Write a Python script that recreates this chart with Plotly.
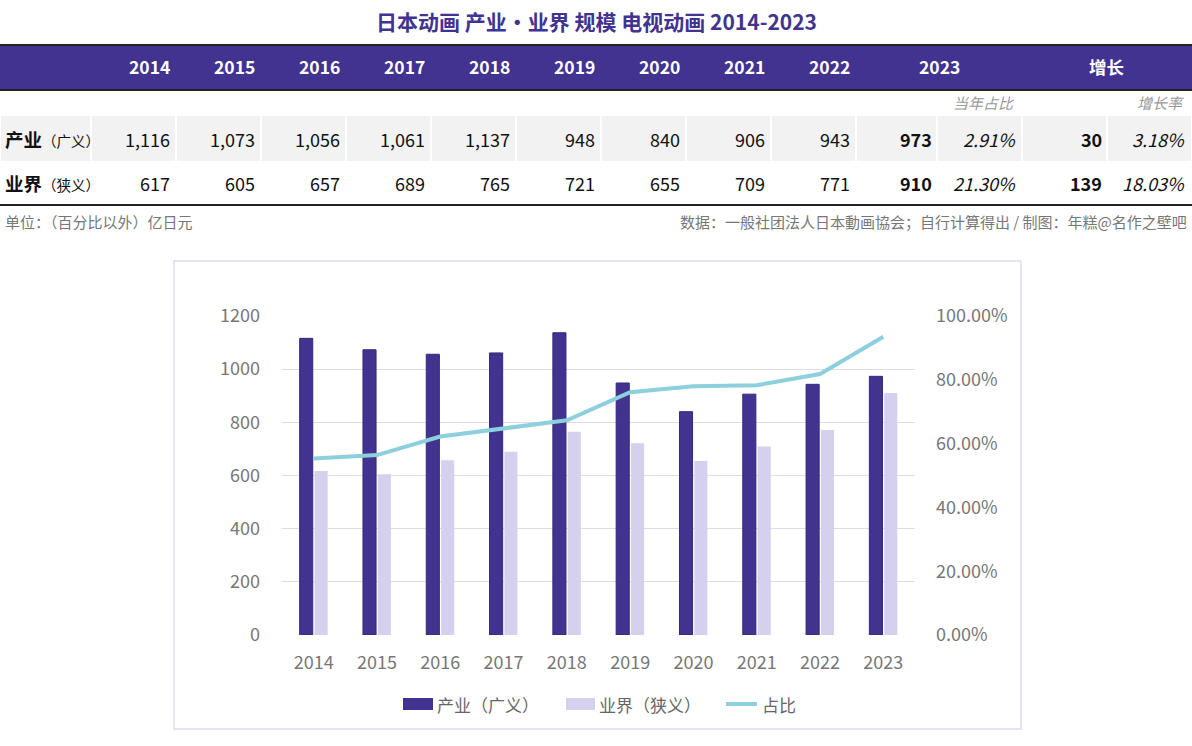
import plotly.graph_objects as go

# data
years = ['2014', '2015', '2016', '2017', '2018', '2019', '2020', '2021', '2022', '2023']
industry = [1116, 1073, 1056, 1061, 1137, 948, 840, 906, 943, 973]   # 产业（广义）
studio = [617, 605, 657, 689, 765, 721, 655, 709, 771, 910]          # 业界（狭义）
share = [0.553, 0.564, 0.622, 0.649, 0.673, 0.761, 0.780, 0.783, 0.818, 0.935]  # 占比
share_2023 = ['2.91%', '21.30%']
growth = [30, 139]
growth_rate = ['3.18%', '18.03%']
row_names = [('产业', '（广义）'), ('业界', '（狭义）')]
series_names = ['产业（广义）', '业界（狭义）', '占比']

W, H = 1192, 746
FONT = 'Noto Sans CJK SC'
PURPLE = '#41338f'
LIGHT = '#d5d0ee'
CYAN = '#8dcfdc'
GRID = '#dedaf0'
GREY = '#777777'


def X(px):
    return px / W


def Y(py):
    return 1 - py / H


fig = go.Figure()

fig.add_trace(go.Bar(x=years, y=industry, name=series_names[0],
                     marker=dict(color=PURPLE, line=dict(color='#35297a', width=1))))
fig.add_trace(go.Bar(x=years, y=studio, name=series_names[1],
                     marker=dict(color=LIGHT, line=dict(width=0))))
fig.add_trace(go.Scatter(x=years, y=share, name=series_names[2], yaxis='y2',
                         mode='lines', line=dict(color=CYAN, width=4)))

shapes = []
ann = []


def text(x, y, s, size=18, color='#111111', anchor='right'):
    ann.append(dict(x=X(x), y=Y(y), xref='paper', yref='paper', text=s,
                    showarrow=False, xanchor=anchor, yanchor='middle',
                    font=dict(family=FONT, size=size, color=color)))


def rect(x0, y0, x1, y1, fill):
    shapes.append(dict(type='rect', xref='paper', yref='paper',
                       x0=X(x0), x1=X(x1), y0=Y(y0), y1=Y(y1),
                       fillcolor=fill, line=dict(width=0), layer='below'))


def hline(y, color='#222', width=2):
    shapes.append(dict(type='line', xref='paper', yref='paper', x0=0, x1=1,
                       y0=Y(y), y1=Y(y), line=dict(color=color, width=width)))


# title
text(596, 21, '<b>日本动画 产业・业界 规模 电视动画 2014-2023</b>', size=21,
     color=PURPLE, anchor='center')

# table: header band and rules
rect(0, 45, W, 90, PURPLE)
hline(45)
hline(90)
hline(205)

# column edges
edges = [0, 91] + [91 + 85 * (i + 1) for i in range(9)] + [937, 1022, 1107, W]
for a, b in zip(edges[:-1], edges[1:]):
    rect(a + 1, 116, b - 1, 161, '#f2f2f2')

for i, yr in enumerate(years[:-1]):
    text(edges[i + 2] - 4, 67, '<b>' + yr + '</b>', size=17.5, color='white')
text((edges[10] + 1022) / 2, 67, '<b>' + years[-1] + '</b>', size=17.5,
     color='white', anchor='center')
text((1022 + W) / 2, 67, '<b>增长</b>', size=17.5, color='white', anchor='center')
text(1017, 103, '<i>当年占比</i>', size=15, color='#999999')
text(1186, 103, '<i>增长率</i>', size=15, color='#999999')

rows = [industry, studio]
for r, (vals, yc) in enumerate(zip(rows, [139, 183])):
    name, sub = row_names[r]
    text(3, yc, '<b>' + name + '</b><span style="font-size:14.5px">' + sub + '</span>',
         size=18.5, anchor='left')
    for i, v in enumerate(vals[:-1]):
        text(edges[i + 2] - 4, yc, f'{v:,}')
    text(934, yc, f'<b>{vals[-1]:,}</b>')
    text(1018, yc, '<i>' + share_2023[r] + '</i>')
    text(1104, yc, f'<b>{growth[r]:,}</b>')
    text(1187, yc, '<i>' + growth_rate[r] + '</i>')

text(3, 222, '单位：（百分比以外）亿日元', size=15, color=GREY, anchor='left')
text(1189, 222, '数据：一般社团法人日本動画協会；自行计算得出 / 制图：年糕@名作之壁吧',
     size=15, color=GREY)

# chart frame
shapes.append(dict(type='rect', xref='paper', yref='paper', x0=X(174), x1=X(1021),
                   y0=Y(729), y1=Y(261), line=dict(color=GRID, width=1.5),
                   fillcolor='rgba(0,0,0,0)', layer='below'))

# legend drawn by hand to get the wide swatches
rect(403, 698, 433, 710, PURPLE)
rect(566, 698, 595, 710, LIGHT)
shapes.append(dict(type='line', xref='paper', yref='paper', x0=X(726), x1=X(757),
                   y0=Y(704), y1=Y(704), line=dict(color=CYAN, width=4)))
for xx, nm in zip([435, 597, 760], series_names):
    text(xx, 704, nm, size=17, color='#666666', anchor='left')

fig.update_layout(
    width=W, height=H, autosize=False,
    margin=dict(l=0, r=0, t=0, b=0, autoexpand=False),
    paper_bgcolor='white', plot_bgcolor='white',
    font=dict(family=FONT, color=GREY),
    showlegend=False,
    barmode='group', bargap=0.53, bargroupgap=0.12,
    shapes=shapes, annotations=ann,
    xaxis=dict(domain=[X(282), X(915)], type='category', showgrid=False,
               showline=False, ticks='', tickfont=dict(size=18, color=GREY),
               ticklabelstandoff=15, automargin=False),
    yaxis=dict(domain=[Y(635), Y(316)], range=[0, 1200], dtick=200,
               gridcolor=GRID, gridwidth=1, zeroline=False, showline=False,
               tickfont=dict(size=18, color=GREY), ticklabelstandoff=21,
               automargin=False),
    yaxis2=dict(overlaying='y', side='right', range=[0, 1], dtick=0.2,
                tickformat='.2%', showgrid=False, zeroline=False, showline=False,
                tickfont=dict(size=18, color=GREY), ticklabelstandoff=20,
                automargin=False),
)

page_fix = "document.body.style.margin='0';"

fig.write_html("out.html", config={'displayModeBar': False}, post_script=page_fix)
